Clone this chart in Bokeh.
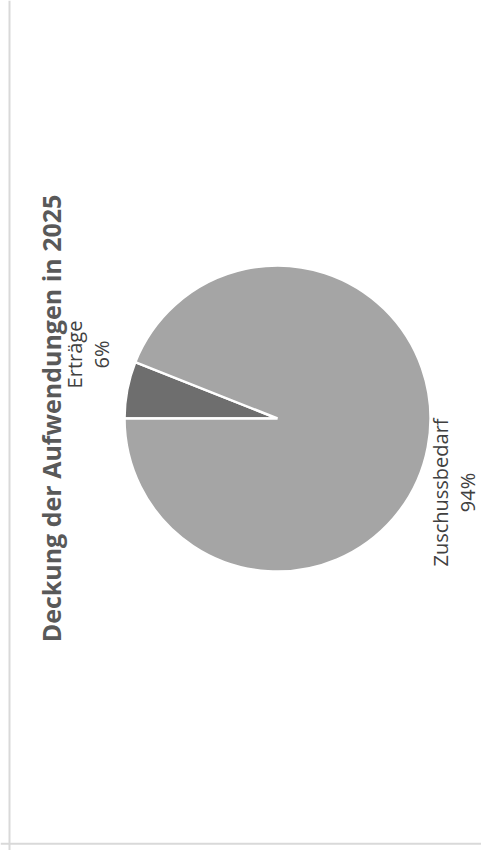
import math
from bokeh.plotting import figure
from bokeh.models import ColumnDataSource, Range1d, Span
from bokeh.core.properties import value
from bokeh.embed import file_html
from bokeh.resources import INLINE

# ---- data ----
title_text = "Deckung der Aufwendungen in 2025"
categories = ["Erträge", "Zuschussbedarf"]
shares = [6, 94]
share_labels = ["6%", "94%"]
colors = ["#6e6e6e", "#a5a5a5"]

# ---- layout (pixels) ----
W, H = 481, 850
CX, CY = 277, H - 418      # pie centre
R = 153                    # pie radius
label_offsets = [(-190, 64), (176, -74)]   # label block centre relative to pie centre
line_gap = 27

p = figure(width=W, height=H, x_range=Range1d(0, W), y_range=Range1d(0, H),
           output_backend="svg", toolbar_location=None, min_border=0,
           x_axis_location=None, y_axis_location=None)
p.grid.visible = False
p.outline_line_color = None
p.background_fill_color = "white"
p.border_fill_color = "white"

# chart-area border (left and bottom edges visible)
p.add_layout(Span(location=9, dimension="height", line_color="#d9d9d9", line_width=2))
p.add_layout(Span(location=H - 843.3, dimension="width", line_color="#d9d9d9", line_width=2))

# wedges: start at 9 o'clock, go clockwise (chart rotated)
total = sum(shares)
starts, ends = [], []
cum = 0.0
for s in shares:
    starts.append(math.pi - 2 * math.pi * cum / total)
    ends.append(math.pi - 2 * math.pi * (cum + s) / total)
    cum += s

src = ColumnDataSource(dict(start=starts, end=ends, color=colors,
                            cat=categories, pct=share_labels))
p.wedge(x=CX, y=CY, radius=R, start_angle="start", end_angle="end",
        direction="clock", fill_color="color", line_color="white",
        line_width=2.5, source=src)

# labels (rotated 90°)
name_x = [CX + dx - line_gap / 2 for dx, dy in label_offsets]
pct_x = [CX + dx + line_gap / 2 for dx, dy in label_offsets]
lab_y = [CY + dy for dx, dy in label_offsets]
lab_src = ColumnDataSource(dict(nx=name_x, px=pct_x, y=lab_y,
                                cat=categories, pct=share_labels))
for col in ("nx", "px"):
    p.text(x=col, y="y", text="cat" if col == "nx" else "pct", source=lab_src,
           angle=math.pi / 2, text_align="center", text_baseline="middle",
           text_font=value("Open Sans"), text_font_size="20px",
           text_color="#404040")

# title (rotated 90°)
p.text(x=[50], y=[CY], text=[title_text], angle=math.pi / 2,
       text_align="center", text_baseline="middle",
       text_font=value("Open Sans"), text_font_size="25px",
       text_font_style="bold", text_color="#595959")

open("out.html", "w").write(file_html(p, INLINE))
